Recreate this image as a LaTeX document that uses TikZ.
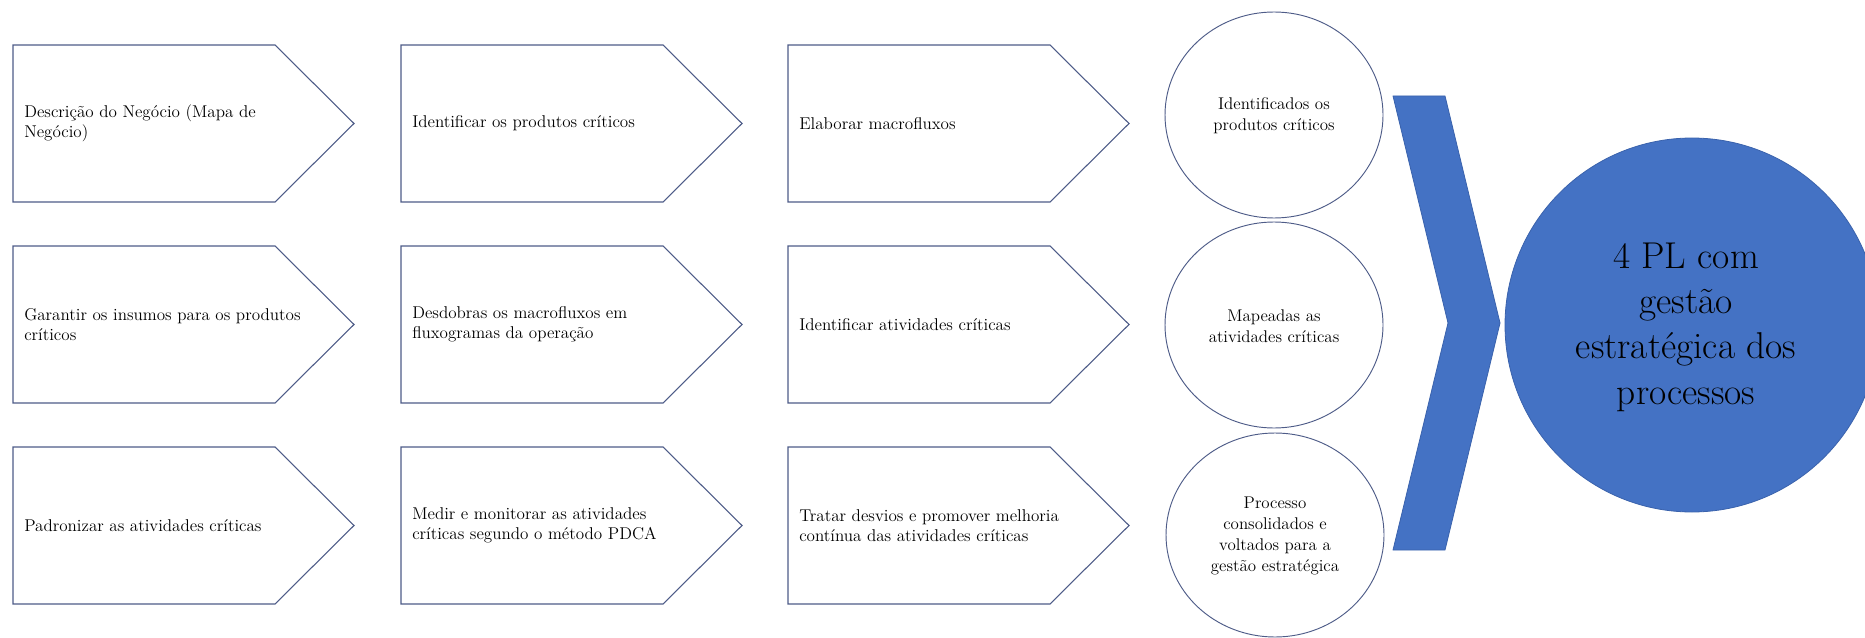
\documentclass[tikz,border=0pt]{standalone}
\usepackage{fontspec}
\usetikzlibrary{calc}
\definecolor{edge}{RGB}{78,92,136}
\definecolor{officeblue}{HTML}{4472C4}
\definecolor{blueline}{HTML}{3A62AC}
\tikzset{
  panel/.style={draw=edge, line width=0.8pt, fill=white, line join=miter},
  paneltext/.style={anchor=west, align=left, inner sep=0pt,
    font=\fontsize{12.8}{15.2}\selectfont},
  result/.style={draw=edge, line width=0.7pt, fill=white},
  resulttext/.style={align=center, inner sep=0pt,
    font=\fontsize{12.7}{15.6}\selectfont},
  goal/.style={fill=officeblue, draw=blueline, line width=0.6pt},
  goaltext/.style={align=center, inner sep=0pt,
    font=\fontsize{28}{34}\selectfont},
}
% #1,#2: top-left corner (px), #3: node name, #4: text
\newcommand{\arrowpanel}[4]{%
  \draw[panel] (#1,#2) -- ++(262,0) -- ++(79,78.5) -- ++(-79,78.5)
    -- ++(-262,0) -- cycle;
  \node[paneltext] (#3) at ($(#1,#2)+(11,78.5)$) {#4};
}
\begin{document}
\begin{tikzpicture}[x=0.75pt, y=-0.75pt]
  \useasboundingbox (0,0) rectangle (1865,638);
  \clip (0,0) rectangle (1865,638);

  % three rows of step panels
  \arrowpanel{13}{45}{a1}{Descrição do Negócio (Mapa de\\Negócio)}
  \arrowpanel{401}{45}{b1}{Identificar os produtos críticos}
  \arrowpanel{788}{45}{c1}{Elaborar macrofluxos}

  \arrowpanel{13}{246}{a2}{Garantir os insumos para os produtos\\críticos}
  \arrowpanel{401}{246}{b2}{Desdobras os macrofluxos em\\fluxogramas da operação}
  \arrowpanel{788}{246}{c2}{Identificar atividades críticas}

  \arrowpanel{13}{447}{a3}{Padronizar as atividades críticas}
  \arrowpanel{401}{447}{b3}{Medir e monitorar as atividades\\críticas segundo o método PDCA}
  \arrowpanel{788}{447}{c3}{Tratar desvios e promover melhoria\\contínua das atividades críticas}

  % outcomes
  \draw[result] (1274,115) ellipse [x radius=109, y radius=103];
  \node[resulttext] (r1) at (1274,116) {Identificados os\\produtos críticos};
  \draw[result] (1274,325) ellipse [x radius=109, y radius=103];
  \node[resulttext] (r2) at (1274,326) {Mapeadas as\\atividades críticas};
  \draw[result] (1275,535) ellipse [x radius=109, y radius=102];
  \node[resulttext] (r3) at (1275,536) {Processo\\consolidados e\\voltados para a\\gestão estratégica};

  % chevron
  \draw[goal] (1393,96) -- (1445,96) -- (1500,323) -- (1445,550)
    -- (1393,550) -- (1448,323) -- cycle;

  % goal
  \draw[goal] (1692,325) circle (187);
  \node[goaltext] (g) at (1686,327) {4 PL com\\gestão\\estratégica dos\\processos};
\end{tikzpicture}
\end{document}
